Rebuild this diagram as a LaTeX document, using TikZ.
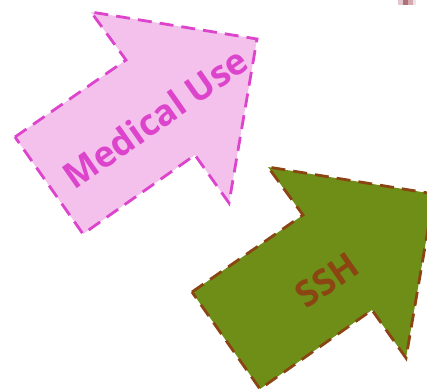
\documentclass[tikz,border=0pt]{standalone}
\usepackage{fontspec}
\setmainfont{Open Sans}
\definecolor{pinkfill}{HTML}{F4C0EC}
\definecolor{pinkline}{HTML}{DD44CC}
\definecolor{greenfill}{HTML}{6E8E18}
\definecolor{brownline}{HTML}{8B4513}
\definecolor{cA}{HTML}{E2C8CC}
\definecolor{cB}{HTML}{B07078}
\definecolor{cC}{HTML}{D4A8B0}
\definecolor{cD}{HTML}{EEE2E4}
\tikzset{
  arrowshape/.style={line width=2.8pt, dash pattern=on 14pt off 8pt, line join=miter},
  arrowlabel/.style={rotate=35, font=\fontsize{36}{40}\selectfont\bfseries, inner sep=0pt}
}
\begin{document}
\begin{tikzpicture}[x=1pt,y=-1pt]
\useasboundingbox (0,0) rectangle (427,390);
\begin{scope}
\clip (0,0) rectangle (427,390);
% pink arrow
\draw[arrowshape, fill=pinkfill, draw=pinkline]
  (15,137) -- (126,60) -- (91,12) -- (257,39) -- (229,203) -- (195,155) -- (83,234) -- cycle;
\node[arrowlabel, text=pinkline] (med) at (155,118) {Medical Use};
% green arrow (same shape shifted)
\begin{scope}[shift={(177,155)}]
\draw[arrowshape, fill=greenfill, draw=brownline]
  (15,137) -- (126,60) -- (91,12) -- (257,39) -- (229,203) -- (195,155) -- (83,234) -- cycle;
\end{scope}
\node[arrowlabel, text=brownline] (ssh) at (327,280) {SSH};
% corner fragment
\fill[cA] (398,0) rectangle (403,5);
\fill[cB] (403,0) rectangle (408,5);
\fill[cC] (408,0) rectangle (413,5);
\fill[cD] (413,0) rectangle (416,5);
\end{scope}
\end{tikzpicture}
\end{document}
